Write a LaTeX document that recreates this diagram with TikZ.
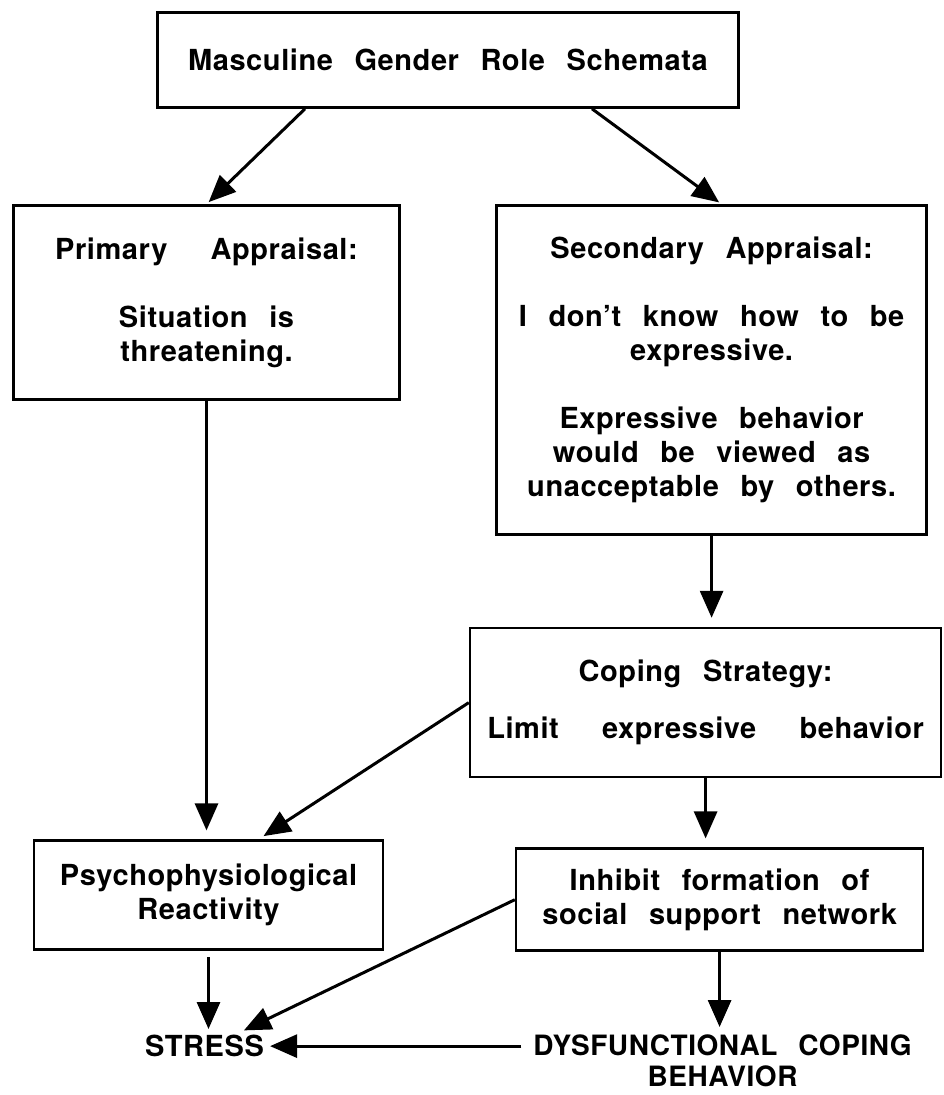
\documentclass[tikz,border=0pt]{standalone}
\usepackage{fontspec}
\setmainfont[LetterSpace=2,WordSpace=2.5]{TeX Gyre Heros}
\usetikzlibrary{matrix, arrows.meta}

\begin{document}
\begin{tikzpicture}[x=1pt, y=-1pt, font=\fontsize{29}{34}\selectfont\bfseries,
  box/.style={draw, line width=2.6pt, align=center, inner sep=0pt},
  arr/.style={line width=3pt, -{Triangle[length=27pt,width=23pt]}, shorten >=9pt}]
\useasboundingbox (0,0) rectangle (943,1095);
\node[box, minimum width=581pt, minimum height=95pt] (mgr) at (448,60) {Masculine Gender Role Schemata};
\matrix (m) [column sep = 68pt, inner sep=0pt, anchor=north west] at (12,204) {
\node[box, anchor=north, minimum width=386pt, minimum height=194pt](pa){Primary\ \ Appraisal:\\[34pt]Situation is\\threatening.}; &
\node[box, anchor=north, minimum width=430pt, minimum height=329pt, xshift=6pt](sa){Secondary Appraisal:\\[34pt]I don't know how to be\\expressive.\\[34pt]Expressive behavior\\would be viewed as\\unacceptable by others.}; \\[91pt]
& \node[box, anchor=north, minimum width=471pt, minimum height=149pt](cs){Coping\ Strategy:\\[23pt]Limit\ \ expressive\ \ behavior}; \\[61pt]
\node[box, anchor=north, minimum width=349pt, minimum height=109pt, xshift=2pt](pr){Psychophysiological\\Reactivity}; &
\node[box, anchor=north, minimum width=407pt, minimum height=102pt, xshift=14pt, yshift=-8pt](inh){Inhibit formation of\\social support network}; \\[81pt]
\node[anchor=north, inner sep=2pt, xshift=-2pt](st){STRESS}; &
\node[anchor=north, inner sep=2pt, align=center, xshift=17pt, font=\fontsize{28}{31}\selectfont\bfseries](dcb){DYSFUNCTIONAL COPING\\BEHAVIOR}; \\
};
\draw[arr, shorten >=3pt] ([xshift=-143pt]mgr.south) -- (pa.north);
\draw[arr, shorten >=3pt] ([xshift=144pt]mgr.south) -- ([xshift=10pt]sa.north);
\draw[arr] (pa) -- (pa |- pr.north);
\draw[arr] (sa) -- (sa |- cs.north);
\draw[arr, shorten >=6pt] (cs.west) -- ([xshift=50pt]pr.north);
\draw[arr] (cs) -- (cs |- inh.north);
\draw[arr, shorten >=4pt, shorten <=6pt] (pr) -- (pr |- st.north);
\draw[arr, shorten >=6pt] (inh.west) -- ([xshift=34pt]st.north);
\draw[arr, shorten >=6pt] (inh) -- (inh |- dcb.north);
\draw[arr, shorten >=4pt, shorten <=10pt] (st.east -| dcb.west) -- (st);
\end{tikzpicture}
\end{document}
